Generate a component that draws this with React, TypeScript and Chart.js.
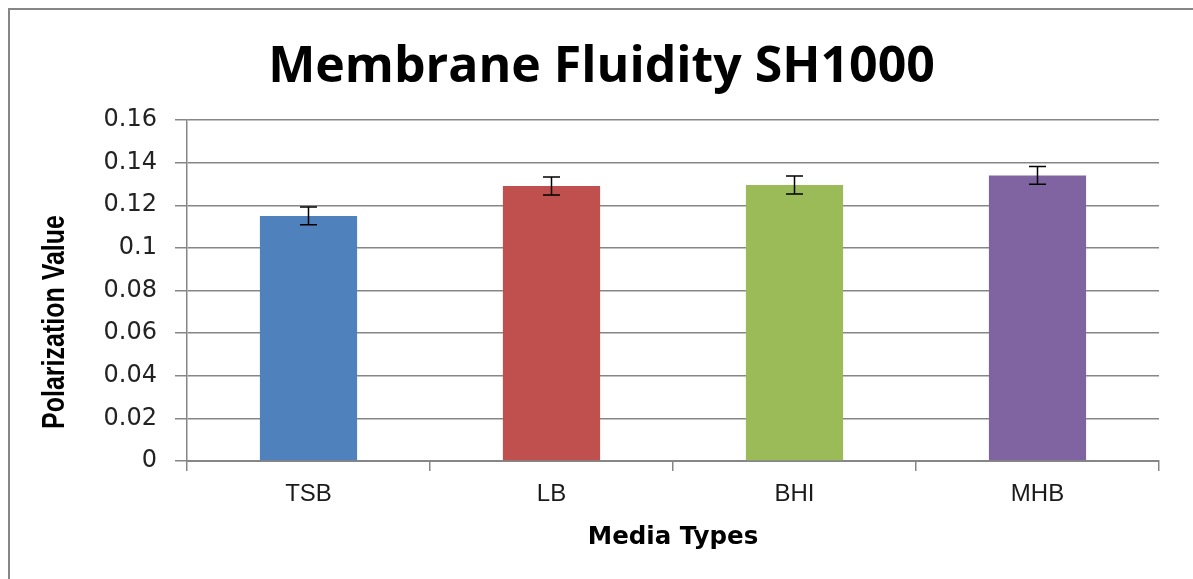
import React, { useEffect, useRef } from "react";
import { Chart, registerables } from "chart.js";

Chart.register(...registerables);

const categories = ["TSB", "LB", "BHI", "MHB"];
const values = [0.115, 0.129, 0.1295, 0.134];
const errors = [0.0042, 0.0042, 0.0042, 0.0042];
const barColors = ["#4F81BD", "#C0504D", "#9BBB59", "#8064A2"];
const yTicks = [0, 0.02, 0.04, 0.06, 0.08, 0.1, 0.12, 0.14, 0.16];
const chartTitle = "Membrane Fluidity SH1000";
const xTitle = "Media Types";
const yTitle = "Polarization Value";

const errorBarPlugin = {
  id: "errorBars",
  afterDatasetsDraw(chart: any) {
    const ctx = chart.ctx;
    const meta = chart.getDatasetMeta(0);
    const y = chart.scales.y;
    ctx.save();
    ctx.strokeStyle = "#000";
    ctx.lineWidth = 1.5;
    meta.data.forEach((bar: any, i: number) => {
      const x = bar.x;
      const top = y.getPixelForValue(values[i] + errors[i]);
      const bot = y.getPixelForValue(values[i] - errors[i]);
      const cap = 8.5;
      ctx.beginPath();
      ctx.moveTo(x, top);
      ctx.lineTo(x, bot);
      ctx.moveTo(x - cap, top);
      ctx.lineTo(x + cap, top);
      ctx.moveTo(x - cap, bot);
      ctx.lineTo(x + cap, bot);
      ctx.stroke();
    });
    ctx.restore();
  },
};

const titlesPlugin = {
  id: "titles",
  afterDraw(chart: any) {
    const ctx = chart.ctx;
    ctx.save();
    ctx.fillStyle = "#000";
    ctx.textAlign = "center";
    ctx.textBaseline = "alphabetic";
    ctx.font = "bold 50px 'Open Sans', sans-serif";
    ctx.fillText(chartTitle, chart.width / 2, 72);
    ctx.restore();

    ctx.save();
    ctx.translate(45, 312);
    ctx.rotate(-Math.PI / 2);
    ctx.scale(1, 1.25);
    ctx.font = "bold 25px 'Liberation Sans', Arial, sans-serif";
    ctx.fillStyle = "#000";
    ctx.textAlign = "center";
    ctx.textBaseline = "middle";
    ctx.fillText(yTitle, 0, 0);
    ctx.restore();
  },
};

export default function App() {
  const ref = useRef<HTMLCanvasElement | null>(null);
  useEffect(() => {
    if (!ref.current) return;
    const chart = new Chart(ref.current, {
      type: "bar",
      data: {
        labels: categories,
        datasets: [
          {
            data: values,
            backgroundColor: barColors,
            borderWidth: 0,
            barPercentage: 0.4,
            categoryPercentage: 1,
          },
        ],
      },
      options: {
        responsive: false,
        animation: false,
        layout: { padding: { left: 0, right: 34, top: 110, bottom: 0 } },
        plugins: {
          legend: { display: false },
          tooltip: { enabled: false },
          title: { display: false },
        },
        scales: {
          x: {
            grid: {
              display: true,
              drawOnChartArea: false,
              offset: true,
              drawTicks: true,
              tickLength: 10,
              color: "#868686",
              lineWidth: 1.5,
            },
            border: { display: true, color: "#868686", width: 2 },
            ticks: {
              color: "#1a1a1a",
              padding: 9,
              font: { family: "'Liberation Sans', Arial, sans-serif", size: 24 },
            },
            title: {
              display: true,
              text: xTitle,
              color: "#000",
              font: { family: "'DejaVu Sans', sans-serif", size: 24.5, weight: "bold" },
              padding: { top: 0, bottom: 27 },
            },
            afterFit(scale: any) {
              scale.height = 118;
            },
          },
          y: {
            min: 0,
            max: 0.16,
            afterBuildTicks(scale: any) {
              scale.ticks = yTicks.map((v) => ({ value: v }));
            },
            grid: {
              color: "#868686",
              lineWidth: 1.5,
              drawTicks: true,
              tickLength: 12,
            },
            border: { display: true, color: "#868686", width: 1.5 },
            ticks: {
              color: "#222",
              padding: 18,
              font: { family: "'DejaVu Sans', sans-serif", size: 24 },
              callback: (v: any) => String(Number(v)),
            },
            afterFit(scale: any) {
              scale.width = 177;
            },
          },
        },
      },
      plugins: [errorBarPlugin, titlesPlugin],
    });
    return () => chart.destroy();
  }, []);
  return (
    <div
      style={{
        position: "absolute",
        left: 8,
        top: 8,
        width: 1185,
        height: 571,
        boxSizing: "border-box",
        borderTop: "2px solid #868686",
        borderLeft: "2px solid #868686",
        overflow: "hidden",
        background: "#fff",
      }}
    >
      <canvas ref={ref} width={1183} height={569} style={{ display: "block" }} />
    </div>
  );
}
